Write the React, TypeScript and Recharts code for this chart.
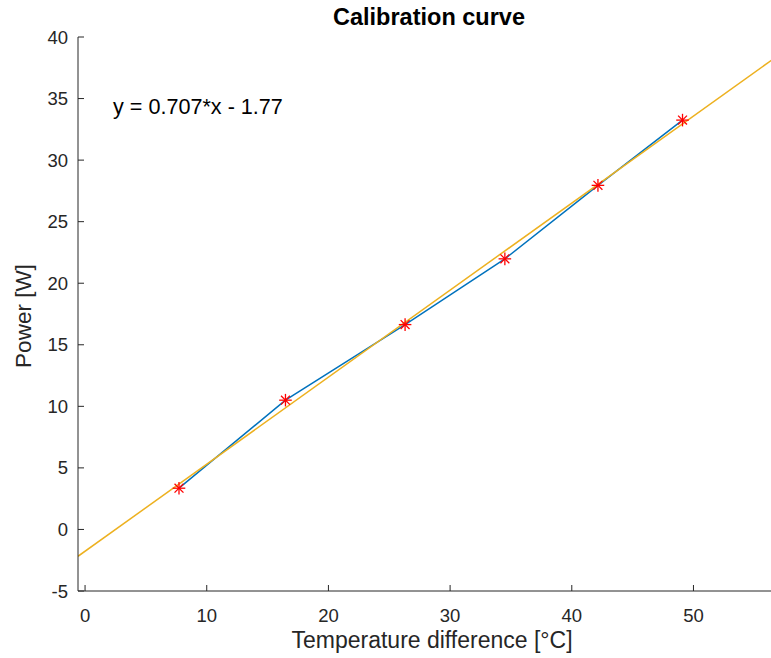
import React from 'react';
import { ComposedChart, Line, Scatter, XAxis, YAxis } from 'recharts';

const tempDiff = [7.72, 16.47, 26.3, 34.5, 42.15, 49.1];
const power = [3.35, 10.5, 16.64, 21.98, 27.95, 33.25];

// linear fit y = 0.707*x - 1.77, ends at the axis limits
const fitX = [-0.58, 57.44];
const fitY = [-2.18, 38.84];

const xTicks = [0, 10, 20, 30, 40, 50];
const yTicks = [-5, 0, 5, 10, 15, 20, 25, 30, 35, 40];

const measured = tempDiff.map((x, i) => ({ x, y: power[i] }));
const fit = fitX.map((x, i) => ({ x, y: fitY[i] }));

const font = '"Liberation Sans", Arial, Helvetica, sans-serif';
const axisColor = '#262626';
const tickFont = 18.5;

const BottomTick = ({ x, y, payload }: any) => (
  <g>
    <line x1={x} y1={y} x2={x} y2={y - 6} stroke={axisColor} />
    <text x={x} y={y + 30.8} textAnchor="middle" fontSize={tickFont} fill={axisColor} fontFamily={font}>
      {payload.value}
    </text>
  </g>
);

const TopTick = ({ x, y }: any) => <line x1={x} y1={y} x2={x} y2={y + 6} stroke={axisColor} />;

const LeftTick = ({ x, y, payload }: any) => (
  <g>
    <line x1={x} y1={y} x2={x + 6} y2={y} stroke={axisColor} />
    <text x={x - 10} y={y + 6.6} textAnchor="end" fontSize={tickFont} fill={axisColor} fontFamily={font}>
      {payload.value}
    </text>
  </g>
);

const Asterisk = ({ cx, cy }: any) => {
  const r = 6.3;
  const d = r * 0.7071;
  return (
    <g stroke="#ff0000" strokeWidth={1.3}>
      <line x1={cx - r} y1={cy} x2={cx + r} y2={cy} />
      <line x1={cx} y1={cy - r} x2={cx} y2={cy + r} />
      <line x1={cx - d} y1={cy - d} x2={cx + d} y2={cy + d} />
      <line x1={cx - d} y1={cy + d} x2={cx + d} y2={cy - d} />
    </g>
  );
};

const text: React.CSSProperties = {
  position: 'absolute',
  fontFamily: font,
  lineHeight: 1,
  whiteSpace: 'nowrap',
};

export default function App() {
  return (
    <div
      style={{
        position: 'fixed',
        left: 0,
        top: 0,
        width: 771,
        height: 658,
        overflow: 'hidden',
        background: '#fff',
      }}
    >
      <ComposedChart width={808} height={658} margin={{ top: 37, right: 24, bottom: 0, left: 0 }}>
        <XAxis
          xAxisId="top"
          orientation="top"
          type="number"
          dataKey="x"
          domain={[-0.58, 57.44]}
          allowDataOverflow
          ticks={xTicks}
          interval={0}
          height={0}
          tickSize={0}
          tickMargin={0}
          tick={<TopTick />}
          axisLine={{ stroke: axisColor }}
        />
        <XAxis
          type="number"
          dataKey="x"
          domain={[-0.58, 57.44]}
          allowDataOverflow
          ticks={xTicks}
          interval={0}
          height={67}
          tickSize={0}
          tickMargin={0}
          tick={<BottomTick />}
          axisLine={{ stroke: axisColor }}
        />
        <YAxis
          type="number"
          dataKey="y"
          domain={[-5, 40]}
          allowDataOverflow
          ticks={yTicks}
          interval={0}
          width={78}
          tickSize={0}
          tickMargin={0}
          tick={<LeftTick />}
          axisLine={{ stroke: axisColor }}
        />
        <Line
          data={measured}
          dataKey="y"
          stroke="#0072bd"
          strokeWidth={1.5}
          dot={false}
          activeDot={false}
          isAnimationActive={false}
        />
        <Scatter data={measured} dataKey="y" shape={<Asterisk />} isAnimationActive={false} />
        <Line
          data={fit}
          dataKey="y"
          stroke="#edb120"
          strokeWidth={1.5}
          dot={false}
          activeDot={false}
          isAnimationActive={false}
        />
      </ComposedChart>

      <div style={{ ...text, left: 429, top: 6, fontSize: 23.5, fontWeight: 'bold', color: '#000', transform: 'translateX(-50%)' }}>
        Calibration curve
      </div>
      <div style={{ ...text, left: 113, top: 96, fontSize: 21.6, color: '#000' }}>y = 0.707*x - 1.77</div>
      <div style={{ ...text, left: 432, top: 629, fontSize: 23, color: axisColor, transform: 'translateX(-50%)' }}>
        Temperature difference [°C]
      </div>
      <div
        style={{
          ...text,
          left: 24,
          top: 316,
          fontSize: 22.5,
          color: axisColor,
          transform: 'translate(-50%, -50%) rotate(-90deg)',
        }}
      >
        Power [W]
      </div>
    </div>
  );
}
